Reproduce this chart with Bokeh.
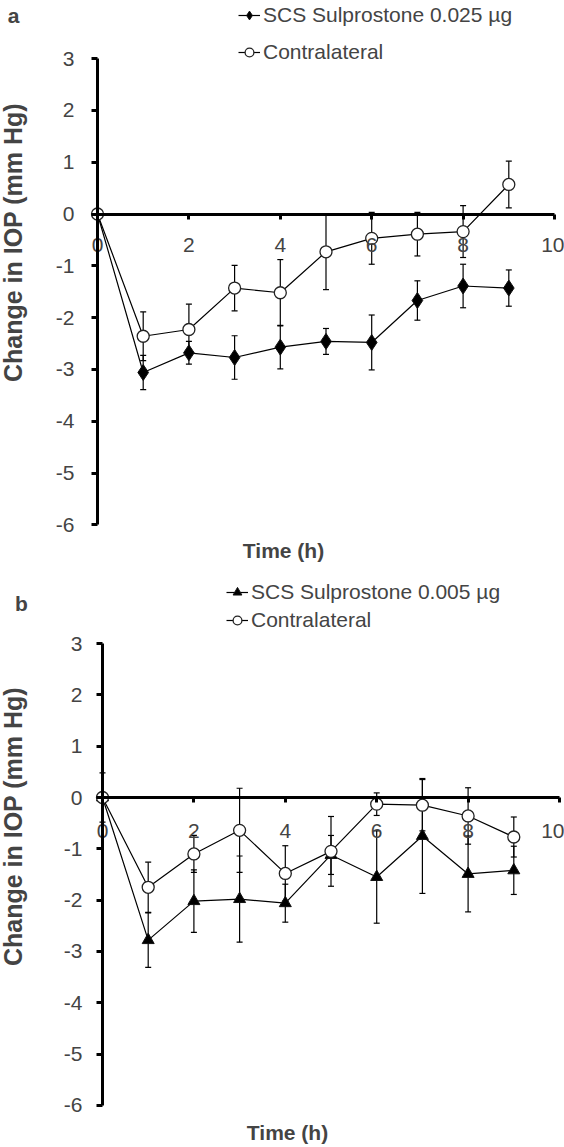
import math
from bokeh.plotting import figure
from bokeh.models import (LinearAxis, Range1d, Whisker, TeeHead, ColumnDataSource,
                          Legend, LegendItem, Label, FixedTicker)
from bokeh.layouts import column
from bokeh.embed import file_html
from bokeh.resources import INLINE

# ---------------- data ----------------
hours = [0, 1, 2, 3, 4, 5, 6, 7, 8, 9]
x_ticks = [0, 2, 4, 6, 8, 10]
y_ticks = [3, 2, 1, 0, -1, -2, -3, -4, -5, -6]

a_scs_label = "SCS Sulprostone 0.025 µg"
a_scs = [0, -3.06, -2.68, -2.77, -2.57, -2.46, -2.48, -1.67, -1.39, -1.43]
a_scs_err = [0, 0.33, 0.22, 0.42, 0.42, 0.25, 0.53, 0.38, 0.42, 0.35]
a_con = [0, -2.36, -2.23, -1.43, -1.52, -0.73, -0.47, -0.39, -0.34, 0.57]
a_con_err = [0, 0.47, 0.49, 0.44, 0.64, 0.73, 0.50, 0.42, 0.50, 0.45]

b_scs_label = "SCS Sulprostone 0.005 µg"
b_scs = [0, -2.78, -2.02, -1.98, -2.06, -1.12, -1.55, -0.75, -1.49, -1.42]
b_scs_err = [0.48, 0.53, 0.61, 0.84, 0.37, 0.38, 0.90, 1.12, 0.74, 0.47]
b_con = [0, -1.75, -1.10, -0.64, -1.48, -1.05, -0.13, -0.15, -0.36, -0.77]
b_con_err = [0, 0.49, 0.36, 0.82, 0.54, 0.68, 0.22, 0.50, 0.55, 0.39]

con_label = "Contralateral"
x_title = "Time (h)"
y_title = "Change in IOP (mm Hg)"

FONT = "Liberation Sans"
W = 564


def make_panel(H, x0px, ux, y3px, uy, scs, scs_err, con, con_err, scs_label,
               scs_marker, scs_size, letter, letter_xy, leg_vx, leg_vy,
               leg_spacing, ylab_xy, xlab_xy, ylab_standoff, xlab_standoff):
    xr = Range1d(-x0px / ux, (W - x0px) / ux)
    ytop = 3 + y3px / uy
    yr = Range1d(ytop - H / uy, ytop)
    p = figure(width=W, height=H, x_range=xr, y_range=yr, output_backend="svg",
               toolbar_location=None, min_border=0, x_axis_type=None,
               y_axis_type=None, outline_line_color=None)
    p.grid.visible = False

    xa = LinearAxis(fixed_location=0, bounds=(0, 10), ticker=FixedTicker(ticks=x_ticks),
                    axis_line_width=3, major_tick_line_width=3, major_tick_out=5,
                    major_tick_in=0, minor_tick_out=0, minor_tick_in=0,
                    major_label_text_font=FONT, major_label_text_font_size="21px",
                    major_label_standoff=xlab_standoff,
                    major_label_overrides={t: str(t) for t in x_ticks})
    p.add_layout(xa, "below")
    ya = LinearAxis(fixed_location=0, bounds=(-6, 3), ticker=FixedTicker(ticks=y_ticks),
                    axis_line_width=3, major_tick_line_width=3, major_tick_out=6,
                    major_tick_in=0, minor_tick_out=0, minor_tick_in=0,
                    major_label_text_font=FONT, major_label_text_font_size="21px",
                    major_label_standoff=ylab_standoff,
                    major_label_overrides={t: str(t) for t in y_ticks})
    p.add_layout(ya, "left")

    src = ColumnDataSource(dict(
        x=hours, scs=scs, con=con,
        scs_lo=[v - e for v, e in zip(scs, scs_err)],
        scs_hi=[v + e for v, e in zip(scs, scs_err)],
        con_lo=[v - e for v, e in zip(con, con_err)],
        con_hi=[v + e for v, e in zip(con, con_err)],
    ))
    for lo, hi in (("scs_lo", "scs_hi"), ("con_lo", "con_hi")):
        w = Whisker(base="x", lower=lo, upper=hi, source=src, line_width=1.2,
                    line_color="black",
                    upper_head=TeeHead(size=6, line_width=1.2, line_color="black"),
                    lower_head=TeeHead(size=6, line_width=1.2, line_color="black"))
        p.add_layout(w)

    l1 = p.line("x", "scs", source=src, line_color="black", line_width=1.2)
    l2 = p.line("x", "con", source=src, line_color="black", line_width=1.2)
    m1 = p.scatter("x", "scs", source=src, marker=scs_marker, size=scs_size,
                   fill_color="black", line_color="#111111", line_width=1)
    m2 = p.scatter("x", "con", source=src, marker="circle", size=12,
                   fill_color="white", line_color="#222222", line_width=1.3)

    leg = Legend(items=[LegendItem(label=scs_label, renderers=[l1, m1]),
                        LegendItem(label=con_label, renderers=[l2, m2])],
                 location=(leg_vx, leg_vy), orientation="vertical", padding=0,
                 margin=0, spacing=leg_spacing, glyph_width=22, glyph_height=24,
                 label_height=24, label_standoff=3, label_text_font=FONT,
                 label_text_font_size="21px", background_fill_alpha=0,
                 border_line_alpha=0, label_text_baseline="middle")
    p.add_layout(leg)

    p.add_layout(Label(x=letter_xy[0], y=H - letter_xy[1], x_units="screen",
                       y_units="screen", text=letter, text_font=FONT,
                       text_font_style="bold", text_font_size="21px",
                       text_align="center", text_baseline="middle"))
    p.add_layout(Label(x=ylab_xy[0], y=H - ylab_xy[1], x_units="screen",
                       y_units="screen", text=y_title, text_font=FONT,
                       text_font_style="bold", text_font_size="25px",
                       text_align="center", text_baseline="middle",
                       angle=math.pi / 2))
    p.add_layout(Label(x=xlab_xy[0], y=H - xlab_xy[1], x_units="screen",
                       y_units="screen", text=x_title, text_font=FONT,
                       text_font_style="bold", text_font_size="21px",
                       text_align="center", text_baseline="middle"))
    return p


Ha = 570
pa = make_panel(Ha, 97, 45.7, 58.1, 51.8, a_scs, a_scs_err, a_con, a_con_err,
                a_scs_label, "diamond", 16, "a", (13, 15),
                238, Ha - 3 - 61, 13, (12, 242), (283, 550), 17, 19)
Hb = 577
pb = make_panel(Hb, 102, 45.7, 73.1, 51.3, b_scs, b_scs_err, b_con, b_con_err,
                b_scs_label, "triangle", 12, "b", (21, 33),
                226, Hb - 10 - 52, 4, (12, 256), (287, 562), 14, 21)

layout = column(pa, pb, spacing=0)
open("out.html", "w").write(file_html(layout, INLINE))
